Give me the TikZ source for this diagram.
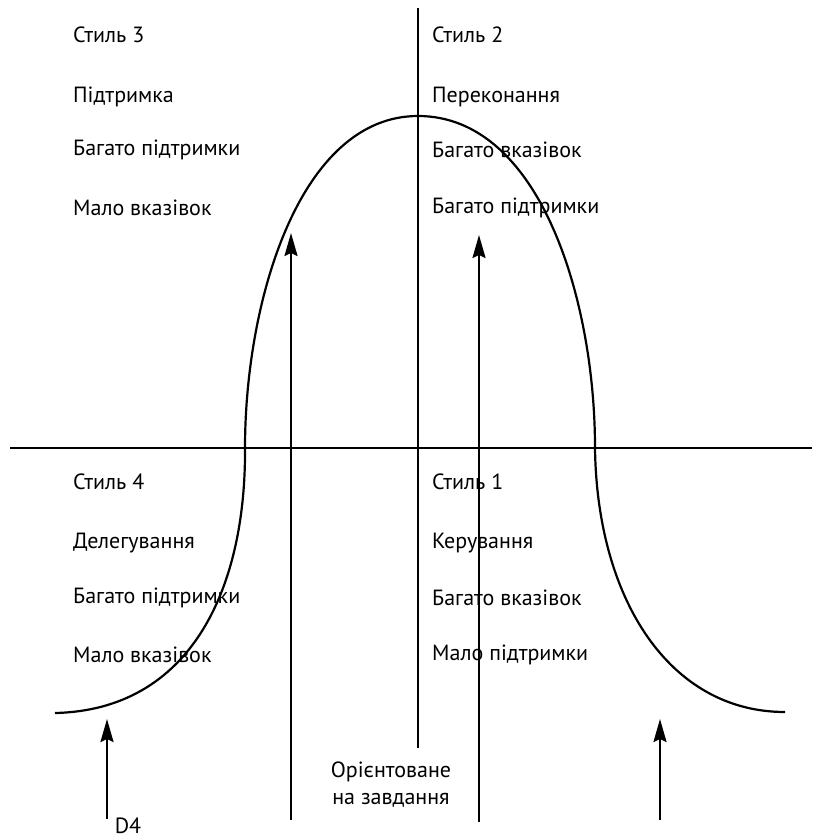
\documentclass[tikz,border=0pt]{standalone}
\usepackage{fontspec}
\setmainfont{PT Sans}
\usetikzlibrary{arrows.meta}
\begin{document}
\begin{tikzpicture}[x=1pt,y=-1pt,
  lbl/.style={anchor=west,inner sep=0pt,font=\fontsize{22}{26}\selectfont},
  ln/.style={line width=2.2pt},
  arr/.style={line width=2.2pt,-{Stealth[length=23pt,width=13pt,inset=3pt]}}]
\useasboundingbox (0,0) rectangle (812,840);
% axes
\coordinate (vt) at (418,8);
\coordinate (vb) at (418,748);
\coordinate (hl) at (10,448);
\coordinate (hr) at (812,448);
\draw[ln] (vt) -- (vb);
\draw[ln] (hl) -- (hr);
% bell curve
\coordinate (c0) at (55,713);
\coordinate (c1) at (245,448);
\coordinate (c2) at (418,116);
\coordinate (c3) at (595,448);
\coordinate (c4) at (785,712);
\draw[ln] (c0) .. controls (190,710) and (246,590) .. (c1)
  .. controls (245,300) and (300,116) .. (c2)
  .. controls (540,116) and (595,300) .. (c3)
  .. controls (597,600) and (670,712) .. (c4);
% texts
\node[lbl] (s3) at (73,35) {Стиль 3};
\node[lbl] (s3a) at (73,97) {Підтримка};
\node[lbl] (s3b) at (73,150) {Багато підтримки};
\node[lbl] (s3c) at (73,208) {Мало вказівок};
\node[lbl] (s2) at (432,35) {Стиль 2};
\node[lbl] (s2a) at (432,97) {Переконання};
\node[lbl] (s2b) at (432,150) {Багато вказівок};
\node[lbl] (s2c) at (432,208) {Багато підтримки};
\node[lbl] (s4) at (73,482) {Стиль 4};
\node[lbl] (s4a) at (73,543) {Делегування};
\node[lbl] (s4b) at (73,598) {Багато підтримки};
\node[lbl] (s4c) at (73,655) {Мало вказівок};
\node[lbl] (s1) at (432,482) {Стиль 1};
\node[lbl] (s1a) at (432,543) {Керування};
\node[lbl] (s1b) at (432,598) {Багато вказівок};
\node[lbl] (s1c) at (432,655) {Мало підтримки};
\node[lbl,anchor=center,align=center,font=\fontsize{22}{27}\selectfont] (task) at (391,785) {Орієнтоване\\на завдання};
\node[lbl,anchor=center] (d4) at (128,826) {D4};
% arrows
\coordinate (a1b) at (107,819);
\coordinate (a1t) at (107,719);
\coordinate (a2b) at (291,820);
\coordinate (a2t) at (291,233);
\coordinate (a3b) at (479,822);
\coordinate (a3t) at (479,235);
\coordinate (a4b) at (660,820);
\coordinate (a4t) at (660,719);
\draw[arr] (a1b) -- (a1t);
\draw[arr] (a2b) -- (a2t);
\draw[arr] (a3b) -- (a3t);
\draw[arr] (a4b) -- (a4t);
\end{tikzpicture}
\end{document}
